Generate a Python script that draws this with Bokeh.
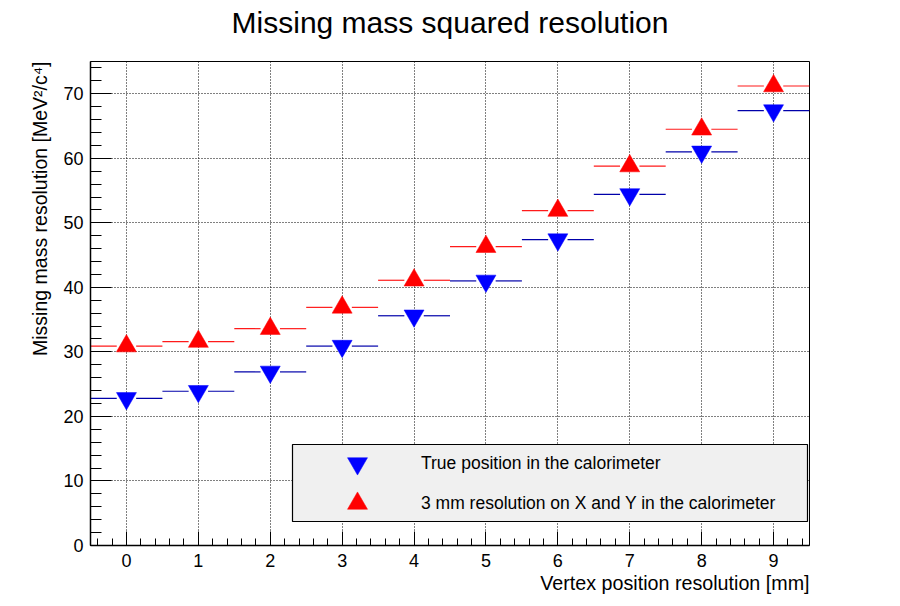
import numpy as np
from bokeh.plotting import figure
from bokeh.models import Range1d, SingleIntervalTicker, Title, Legend, LegendItem, BoxAnnotation
from bokeh.embed import file_html
from bokeh.resources import INLINE

# ---- data ----
vertex_res = [0, 1, 2, 3, 4, 5, 6, 7, 8, 9]
true_pos = [22.8, 23.9, 26.9, 30.9, 35.6, 41.0, 47.4, 54.4, 61.0, 67.4]
res_3mm = [30.9, 31.6, 33.6, 36.9, 41.1, 46.3, 51.9, 58.8, 64.5, 71.2]
x_half_width = 0.5

title_text = "Missing mass squared resolution"
x_label = "Vertex position resolution [mm]"
y_label = "Missing mass resolution [MeV\u00b2/c\u2074]"
label_true = "True position in the calorimeter"
label_3mm = "3 mm resolution on X and Y in the calorimeter"

FONT = "Liberation Sans"
gap = 0.135

p = figure(title=None, frame_width=719, frame_height=484,
           x_range=Range1d(-0.5, 9.5), y_range=Range1d(0, 75),
           output_backend="svg", toolbar_location=None,
           min_border_left=90, min_border_right=91,
           min_border_top=61, min_border_bottom=61,
           background_fill_color="white", border_fill_color="white")

p.outline_line_color = "black"
p.outline_line_width = 1

p.xaxis.ticker = SingleIntervalTicker(interval=1, num_minor_ticks=5)
p.yaxis.ticker = SingleIntervalTicker(interval=10, num_minor_ticks=5)

for ax in (p.xaxis, p.yaxis):
    ax.axis_line_color = "black"
    ax.axis_line_width = 1.5
    ax.major_tick_line_color = "black"
    ax.minor_tick_line_color = "black"
    ax.major_tick_out = 0
    ax.minor_tick_out = 0
    ax.major_label_text_font = FONT
    ax.major_label_text_font_size = "18px"
    ax.major_label_text_color = "black"

p.xaxis.major_tick_in = 14
p.xaxis.minor_tick_in = 7
p.yaxis.major_tick_in = 21
p.yaxis.minor_tick_in = 11
p.xaxis.major_label_standoff = 8
p.yaxis.major_label_standoff = 7

for g in (p.xgrid, p.ygrid):
    g.grid_line_color = "black"
    g.grid_line_dash = "1 2"
    g.grid_line_width = 1
    g.grid_line_alpha = 1.0

# thin blank spacer panel next to the frame, then the main title above it
spacer = Title(text=" ", text_font=FONT, text_font_size="1px", standoff=20,
               text_color="white", text_alpha=1.0)
p.add_layout(spacer, "above")
main_title = Title(text=title_text, align="center", text_font=FONT, text_font_size="30px",
                   text_font_style="normal", text_color="black", standoff=0)
p.add_layout(main_title, "above")

xl = Title(text=x_label, align="right", text_font=FONT, text_font_size="19.7px",
           text_font_style="normal", text_color="black", standoff=0)
p.add_layout(xl, "below")
yl = Title(text=y_label, align="right", text_font=FONT, text_font_size="19.5px",
           text_font_style="normal", text_color="black", standoff=20)
p.add_layout(yl, "left")

x = np.array(vertex_res, dtype=float)
b = np.array(true_pos)
r = np.array(res_3mm)

# horizontal error bars (with gap around the marker)
p.segment(x - x_half_width, b, x - gap, b, line_color="#0000aa", line_width=1.2)
p.segment(x + gap, b, x + x_half_width, b, line_color="#0000aa", line_width=1.2)
p.segment(x - x_half_width, r, x - gap, r, line_color="#ff1a1a", line_width=1.2)
p.segment(x + gap, r, x + x_half_width, r, line_color="#ff1a1a", line_width=1.2)

rb = p.scatter(x, b, marker="inverted_triangle", size=20, fill_color="#0000ff", line_color="#0000ff", line_width=0.5)
rr = p.scatter(x, r, marker="triangle", size=20, fill_color="#ff0000", line_color="#ff0000", line_width=0.5)

# legend box (screen units, relative to the frame)
box = BoxAnnotation(left=202, right=717, bottom=24, top=101,
                    left_units="screen", right_units="screen",
                    bottom_units="screen", top_units="screen",
                    fill_color="#f0f0f0", fill_alpha=1.0,
                    line_color="black", line_width=1.2, line_alpha=1.0)
p.add_layout(box)

common = dict(orientation="vertical", glyph_width=50, glyph_height=50, spacing=0, padding=0,
              label_standoff=39, label_width=300, margin=0,
              background_fill_alpha=0.0, border_line_alpha=0.0,
              label_text_font=FONT, label_text_font_size="17.5px", label_text_color="black")
leg1 = Legend(items=[LegendItem(label=label_true, renderers=[rb])], location=(242, 57), **common)
leg2 = Legend(items=[LegendItem(label=label_3mm, renderers=[rr])], location=(242, 17), **common)
p.add_layout(leg1, "center")
p.add_layout(leg2, "center")

open("out.html", "w").write(file_html(p, INLINE))
